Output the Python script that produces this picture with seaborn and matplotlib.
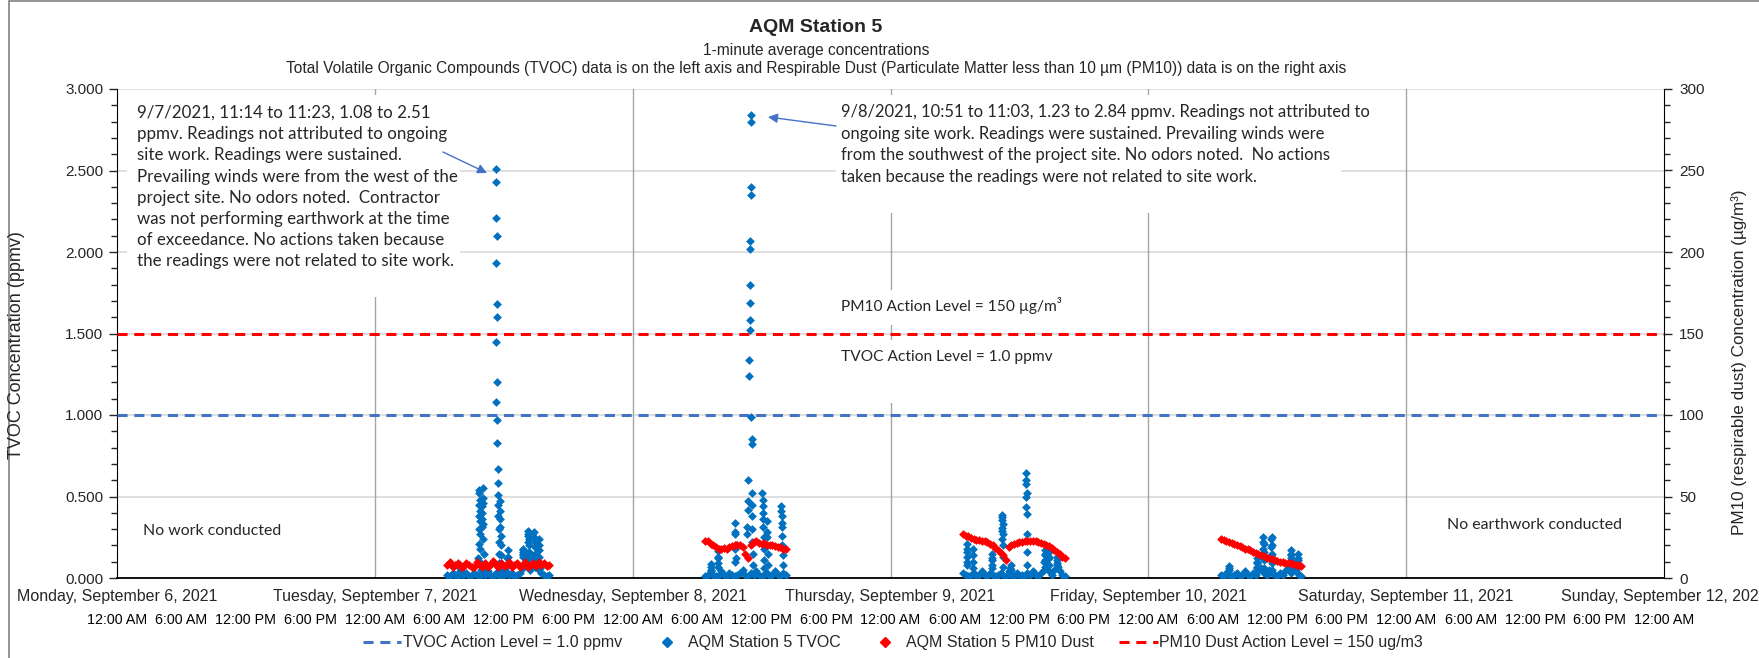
import pandas as pd
import matplotlib
matplotlib.use("Agg")
import matplotlib.pyplot as plt
import matplotlib.dates as mdates
from matplotlib.ticker import MultipleLocator, FuncFormatter
from matplotlib.lines import Line2D
from matplotlib.patches import Rectangle
import seaborn as sns

# ---- data --------------------------------------------------------------
session_days = ["2021-09-07", "2021-09-08", "2021-09-09", "2021-09-10"]
session_start = "06:45"   # first 15-minute sample of each work day

# TVOC (ppmv), background readings every 15 minutes
tvoc_15min_sep7 = [0.02, 0.01, 0.03, 0.02, 0.01, 0.04, 0.02, 0.03, 0.01, 0.02, 0.03, 0.02, 0.01,
                   0.03, 0.02, 0.04, 0.02, 0.01, 0.03, 0.02, 0.01, 0.02, 0.04, 0.02, 0.03, 0.01,
                   0.02, 0.03, 0.06, 0.09, 0.12, 0.15, 0.12, 0.08, 0.05, 0.03, 0.02, 0.01, 0.02]
tvoc_15min_sep8 = [0.01, 0.02, 0.03, 0.02, 0.01, 0.02, 0.04, 0.02, 0.01, 0.03, 0.02, 0.01, 0.02,
                   0.03, 0.05, 0.02, 0.01, 0.03, 0.02, 0.04, 0.02, 0.01, 0.02, 0.03, 0.01, 0.02,
                   0.04, 0.02, 0.01, 0.03, 0.02]
tvoc_15min_sep9 = [0.03, 0.02, 0.01, 0.02, 0.03, 0.01, 0.02, 0.04, 0.02, 0.01, 0.03, 0.02, 0.01,
                   0.02, 0.03, 0.02, 0.01, 0.04, 0.02, 0.01, 0.03, 0.02, 0.02, 0.01, 0.03, 0.02,
                   0.04, 0.02, 0.01, 0.03, 0.05, 0.07, 0.04, 0.02, 0.05, 0.08, 0.04, 0.02, 0.01]
tvoc_15min_sep10 = [0.02, 0.01, 0.03, 0.02, 0.01, 0.02, 0.03, 0.01, 0.02, 0.04, 0.02, 0.01, 0.03,
                    0.02, 0.04, 0.06, 0.03, 0.02, 0.05, 0.03, 0.02, 0.01, 0.03, 0.02, 0.04, 0.06,
                    0.03, 0.05, 0.04, 0.02, 0.01]

# TVOC spikes: start time and consecutive 1-minute readings (ppmv)
spike_start_sep7 = ["07:55", "09:38", "09:58", "11:14", "11:38", "12:20", "13:45", "14:15", "14:50", "15:15"]
spike_ppmv_sep7 = [[0.08, 0.06, 0.04],
                   [0.12, 0.21, 0.30, 0.38, 0.45, 0.52, 0.54, 0.48, 0.41, 0.35, 0.27, 0.18, 0.10, 0.05],
                   [0.31, 0.36, 0.40, 0.44, 0.49, 0.55, 0.46, 0.33, 0.24, 0.15, 0.07],
                   [1.08, 1.45, 1.93, 2.21, 2.51, 2.43, 2.10, 1.68, 1.60, 1.20, 0.97, 0.83, 0.67,
                    0.58, 0.51, 0.45, 0.38, 0.30, 0.22, 0.15, 0.09],
                   [0.47, 0.41, 0.36, 0.31, 0.26, 0.20, 0.14, 0.09, 0.05],
                   [0.12, 0.17, 0.13, 0.08],
                   [0.13, 0.15, 0.17, 0.18, 0.16, 0.14],
                   [0.22, 0.26, 0.29, 0.27, 0.24, 0.20, 0.16, 0.12, 0.08, 0.05],
                   [0.28, 0.25, 0.22, 0.19, 0.15, 0.11, 0.07],
                   [0.24, 0.20, 0.17, 0.13, 0.10, 0.06]]
spike_start_sep8 = ["07:15", "07:55", "09:30", "10:40", "10:51", "11:05", "12:05", "12:30", "13:50"]
spike_ppmv_sep8 = [[0.05, 0.085, 0.07, 0.04],
                   [0.09, 0.13, 0.165, 0.12, 0.07],
                   [0.10, 0.18, 0.27, 0.34, 0.28, 0.20, 0.12],
                   [0.27, 0.31, 0.42, 0.47, 0.60],
                   [1.24, 1.34, 1.52, 1.58, 1.69, 1.80, 2.02, 2.07, 2.35, 2.40, 2.80, 2.84, 0.99, 0.85, 0.82],
                   [0.52, 0.45, 0.38, 0.30, 0.22, 0.15, 0.08],
                   [0.52, 0.48, 0.44, 0.40, 0.36, 0.31, 0.25, 0.18, 0.11, 0.06],
                   [0.20, 0.28, 0.35, 0.25, 0.15, 0.08],
                   [0.44, 0.41, 0.38, 0.34, 0.31, 0.26, 0.20, 0.14, 0.08]]
spike_start_sep9 = ["07:05", "07:40", "09:25", "10:20", "11:10", "12:35", "14:20", "14:45", "15:30"]
spike_ppmv_sep9 = [[0.10, 0.16, 0.21, 0.18, 0.13, 0.08],
                   [0.18, 0.14, 0.10, 0.06],
                   [0.08, 0.12, 0.15, 0.11, 0.06],
                   [0.24, 0.29, 0.305, 0.356, 0.376, 0.385, 0.33, 0.27, 0.20, 0.13, 0.07],
                   [0.06, 0.08, 0.05],
                   [0.437, 0.495, 0.577, 0.60, 0.646, 0.52, 0.39, 0.27, 0.16, 0.08],
                   [0.10, 0.14, 0.17, 0.15, 0.11, 0.07],
                   [0.12, 0.16, 0.13, 0.08],
                   [0.09, 0.13, 0.11, 0.07]]
spike_start_sep10 = ["07:30", "10:05", "10:40", "11:25", "13:15", "13:55"]
spike_ppmv_sep10 = [[0.05, 0.075, 0.06],
                    [0.06, 0.09, 0.12, 0.10, 0.07],
                    [0.12, 0.18, 0.22, 0.25, 0.21, 0.16, 0.11, 0.06],
                    [0.14, 0.19, 0.24, 0.25, 0.20, 0.15, 0.09, 0.05],
                    [0.08, 0.12, 0.15, 0.17, 0.14, 0.10],
                    [0.07, 0.11, 0.15, 0.12, 0.08]]

# PM10 dust (ug/m3), every 15 minutes
pm10_15min_sep7 = [8, 10, 6.5, 8, 9.5, 7, 6.5, 9.5, 8, 7, 6.5, 10, 8, 7, 9.5, 6.5, 8, 10.5, 8, 6.5,
                   9.5, 7.5, 8, 10, 6.5, 8, 9.5, 7, 8, 10, 6.5, 8, 9.5, 7.5, 10, 8, 9.5, 7.5, 8]
pm10_15min_sep8 = [23, 22.5, 21, 20, 19, 18, 18, 18.5, 18, 19, 19.5, 20, 20, 20.5, 19, 15, 12.5,
                   20, 22, 22.5, 21.5, 21, 21.5, 20.5, 20.5, 20, 19.5, 19, 19, 18, 17.5]
pm10_15min_sep9 = [27, 26, 25.5, 24.5, 24, 23.5, 23.5, 23, 23, 22, 21, 20, 18.5, 17, 15.5, 14, 11,
                   19, 20.5, 21, 21.5, 22, 22, 22.5, 23, 23, 22.5, 22.5, 22, 21.5, 21, 20.5, 19.5,
                   18.5, 17, 16, 14.5, 13, 12]
pm10_15min_sep10 = [24, 23.5, 23, 22, 21.5, 21, 20, 19.5, 19, 18, 17.5, 17, 16, 15.5, 15, 14, 13.5,
                    12.5, 12, 11.5, 11, 10.5, 10, 10, 9.5, 9, 9, 8.5, 8, 8, 7.5]

tvoc_action = 1.0
pm10_action = 150

# ---- assemble long tables ----------------------------------------------
tvoc_15min = [tvoc_15min_sep7, tvoc_15min_sep8, tvoc_15min_sep9, tvoc_15min_sep10]
pm10_15min = [pm10_15min_sep7, pm10_15min_sep8, pm10_15min_sep9, pm10_15min_sep10]
spike_starts = [spike_start_sep7, spike_start_sep8, spike_start_sep9, spike_start_sep10]
spike_values = [spike_ppmv_sep7, spike_ppmv_sep8, spike_ppmv_sep9, spike_ppmv_sep10]

frames = []
for day, vals in zip(session_days, tvoc_15min):
    t = pd.date_range(f"{day} {session_start}", periods=len(vals), freq="15min")
    frames.append(pd.DataFrame({"time": t, "value": vals}))
for day, starts, cols in zip(session_days, spike_starts, spike_values):
    for s, vals in zip(starts, cols):
        t = pd.date_range(f"{day} {s}", periods=len(vals), freq="1min")
        frames.append(pd.DataFrame({"time": t, "value": vals}))
tvoc = pd.concat(frames, ignore_index=True)

frames = []
for day, vals in zip(session_days, pm10_15min):
    t = pd.date_range(f"{day} {session_start}", periods=len(vals), freq="15min")
    frames.append(pd.DataFrame({"time": t, "value": vals}))
pm10 = pd.concat(frames, ignore_index=True)

# ---- figure --------------------------------------------------------------
sns.set_style("white")
plt.rcParams["font.family"] = ["Liberation Sans", "DejaVu Sans"]

W, H = 1759, 658
def fx(px):
    return px / W
def fy(py):
    return 1 - py / H

fig = plt.figure(figsize=(W / 100, H / 100), dpi=100)
ax = fig.add_axes([fx(117), fy(578), fx(1664) - fx(117), fy(89) - fy(578)])
ax2 = ax.twinx()

blue, red, line_blue = "#0070C0", "#FF0000", "#4472C4"
note_font = ["Lato", "DejaVu Sans"]

ax.set_axisbelow(True)
ax.yaxis.grid(True, color="#D9D9D9", lw=1.2)
x0, x1 = pd.Timestamp("2021-09-06"), pd.Timestamp("2021-09-12")
day_ticks = pd.date_range(x0, x1, freq="D")
for d in day_ticks[1:-1]:
    ax.axvline(d, color="#A6A6A6", lw=1.0, zorder=0.6)

# white text-box backgrounds (hide gridlines behind the notes)
for (bx0, bx1, by0, by1) in [(127, 460, 95, 297), (836, 1341, 95, 213),
                             (836, 1075, 290, 325), (836, 1060, 340, 403)]:
    ax.add_patch(Rectangle((fx(bx0), fy(by1)), fx(bx1) - fx(bx0), fy(by0) - fy(by1),
                           transform=fig.transFigure, fc="white", ec="none", zorder=1,
                           clip_on=False))

sns.scatterplot(data=tvoc, x="time", y="value", ax=ax, marker="D", s=20, color=blue,
                linewidth=0, zorder=4, legend=False)
ax.axhline(tvoc_action, color=line_blue, lw=2.2, dashes=(3.3, 2.2), zorder=3)

sns.scatterplot(data=pm10, x="time", y="value", ax=ax2, marker="D", s=20, color=red,
                linewidth=0, zorder=4, legend=False)
ax2.axhline(pm10_action, color=red, lw=2.2, dashes=(3.3, 2.2), zorder=3)

ax.set_xlim(x0, x1)
ax.set_ylim(0, 3)
ax2.set_ylim(0, 300)

ax.yaxis.set_major_locator(MultipleLocator(0.5))
ax.yaxis.set_minor_locator(MultipleLocator(0.1))
ax.yaxis.set_major_formatter(FuncFormatter(lambda v, p: f"{v:.3f}"))
ax2.yaxis.set_major_locator(MultipleLocator(50))
ax2.yaxis.set_minor_locator(MultipleLocator(10))

def hour_label(v, p):
    d = mdates.num2date(v)
    h = d.hour % 12 or 12
    return f"{h}:00 {'AM' if d.hour < 12 else 'PM'}"

ax.xaxis.set_major_locator(mdates.HourLocator(byhour=[0, 6, 12, 18]))
ax.xaxis.set_major_formatter(FuncFormatter(hour_label))
ax.tick_params(axis="x", which="major", direction="out", length=4, width=1,
               labelsize=10.3, pad=21, colors="black")
ax.tick_params(axis="y", which="major", direction="out", length=6, width=1, labelsize=11, pad=4)
ax.tick_params(axis="y", which="minor", direction="out", length=4, width=1, left=True)
ax2.tick_params(axis="y", which="major", direction="out", length=6, width=1, labelsize=11, pad=5)
ax2.tick_params(axis="y", which="minor", direction="out", length=4, width=1, right=True)
ax.set_xlabel("")
ax.set_ylabel("")
ax2.set_ylabel("")

for s in ["top", "right"]:
    ax.spines[s].set_visible(False)
for s in ["top", "left", "bottom"]:
    ax2.spines[s].set_visible(False)
ax.spines["left"].set_color("black")
ax.spines["bottom"].set_color("black")
ax.spines["bottom"].set_linewidth(1.3)
ax2.spines["right"].set_color("black")

for d in day_ticks:
    ax.text(d, (578 - 596) / 489, f"{d:%A}, {d:%B} {d.day}, {d.year}", transform=ax.get_xaxis_transform(),
            ha="center", va="center", fontsize=11.5, clip_on=False)

# titles and axis titles
fig.text(fx(816), fy(27), "AQM Station 5", ha="center", va="center", fontsize=14, fontweight="bold")
fig.text(fx(816), fy(50), "1-minute average concentrations", ha="center", va="center", fontsize=11.2)
fig.text(fx(816), fy(68), "Total Volatile Organic Compounds (TVOC) data is on the left axis and Respirable Dust "
         "(Particulate Matter less than 10 µm (PM10)) data is on the right axis",
         ha="center", va="center", fontsize=11.2)
fig.text(fx(17), fy(345), "TVOC Concentration (ppmv)", rotation=90, ha="center", va="center", fontsize=13)
fig.text(fx(1739), fy(362), "PM10 (respirable dust) Concentration (µg/m³)", rotation=90,
         ha="center", va="center", fontsize=12.3)

# notes
note1 = ("9/7/2021, 11:14 to 11:23, 1.08 to 2.51\nppmv. Readings not attributed to ongoing\n"
         "site work. Readings were sustained.\nPrevailing winds were from the west of the\n"
         "project site. No odors noted.  Contractor\nwas not performing earthwork at the time\n"
         "of exceedance. No actions taken because\nthe readings were not related to site work.")
note2 = ("9/8/2021, 10:51 to 11:03, 1.23 to 2.84 ppmv. Readings not attributed to\n"
         "ongoing site work. Readings were sustained. Prevailing winds were\n"
         "from the southwest of the project site. No odors noted.  No actions\n"
         "taken because the readings were not related to site work.")
kw = dict(family=note_font, zorder=2, transform=fig.transFigure)
ax.text(fx(137), fy(105), note1, ha="left", va="top", fontsize=12.2, linespacing=1.40, **kw)
ax.text(fx(841), fy(104), note2, ha="left", va="top", fontsize=11.9, linespacing=1.43, **kw)
ax.text(fx(841), fy(305), "PM10 Action Level = 150 µg/m³", ha="left", va="center", fontsize=11.2, **kw)
ax.text(fx(841), fy(357), "TVOC Action Level = 1.0 ppmv", ha="left", va="center", fontsize=11.2, **kw)
ax.text(fx(143), fy(531), "No work conducted", ha="left", va="center", fontsize=11.4, **kw)
ax.text(fx(1447), fy(525), "No earthwork conducted", ha="left", va="center", fontsize=11.4, **kw)

arrow = dict(arrowstyle="-|>", color=line_blue, lw=1, mutation_scale=14, shrinkA=0, shrinkB=0)
ax.annotate("", xy=(fx(487), fy(173)), xytext=(fx(443), fy(152)), xycoords="figure fraction",
            textcoords="figure fraction", arrowprops=arrow, zorder=5)
ax.annotate("", xy=(fx(768), fy(117)), xytext=(fx(836), fy(126)), xycoords="figure fraction",
            textcoords="figure fraction", arrowprops=arrow, zorder=5)

# legend
handles = [Line2D([0], [0], color=line_blue, lw=2.2, dashes=(3.3, 2.2)),
           Line2D([], [], ls="none", marker="D", color=blue, markersize=5),
           Line2D([], [], ls="none", marker="D", color=red, markersize=5),
           Line2D([0], [0], color=red, lw=2.2, dashes=(3.3, 2.2))]
labels = ["TVOC Action Level = 1.0 ppmv", "AQM Station 5 TVOC", "AQM Station 5 PM10 Dust",
          "PM10 Dust Action Level = 150 ug/m3"]
fig.legend(handles, labels, loc="center", bbox_to_anchor=(fx(893), fy(643)), ncol=4, frameon=False,
           fontsize=11.5, handlelength=2.4, handletextpad=0.1, columnspacing=1.6)

# chart-area border
fig.add_artist(Rectangle((fx(9), -0.1), 1.2, fy(1) + 0.1, transform=fig.transFigure,
                         fill=False, ec="#808080", lw=1.2))

fig.savefig("out.png", dpi=100)
